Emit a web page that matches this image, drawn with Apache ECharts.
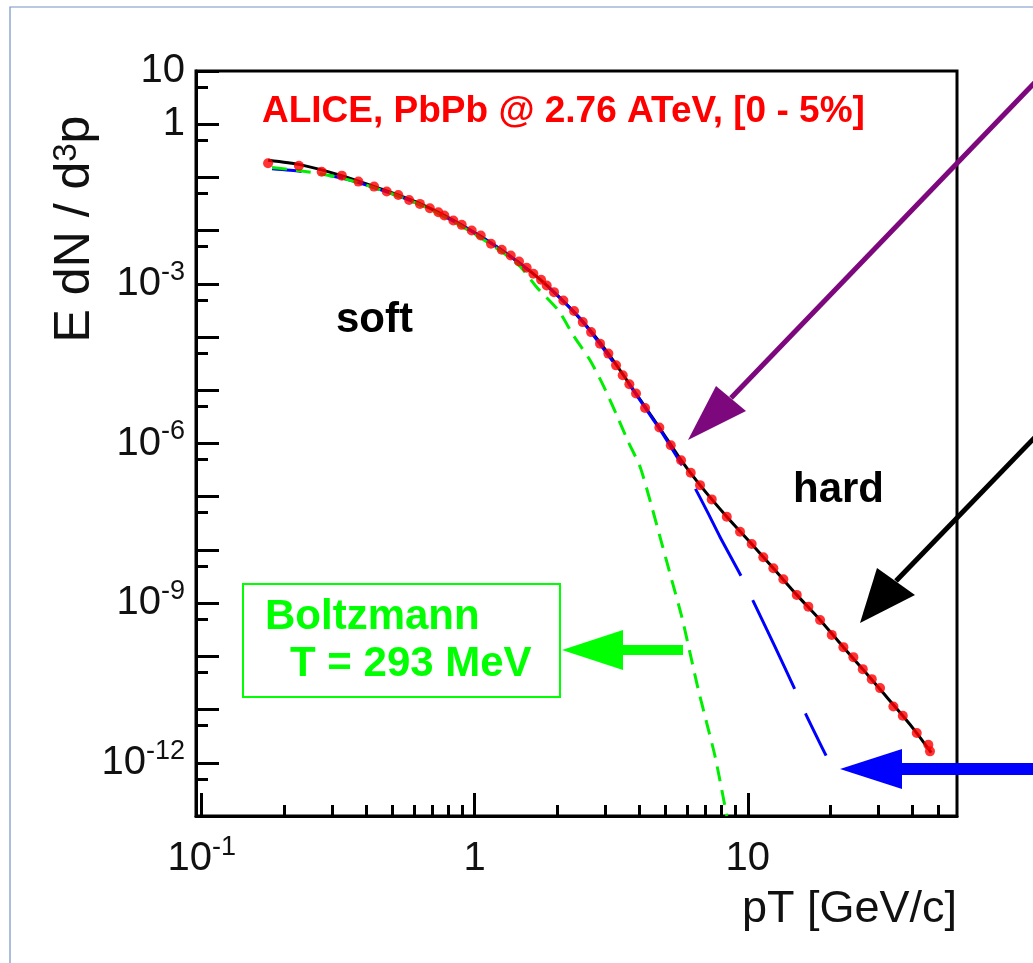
<!DOCTYPE html>
<html><head><meta charset="utf-8">
<script src="https://cdn.jsdelivr.net/npm/echarts@6/dist/echarts.min.js"></script>
<style>html,body{margin:0;padding:0;background:#fff}#c{width:1033px;height:963px}</style>
</head><body><div id="c"></div>
<script>
// ---- data ----
const dataPt = [0.175,0.227,0.275,0.326,0.375,0.428,0.476,0.525,0.575,0.630,0.685,0.736,0.774,0.835,0.896,0.975,1.052,1.147,1.256,1.355,1.453,1.550,1.640,1.750,1.835,1.952,2.112,2.311,2.487,2.667,2.877,3.086,3.293,3.484,3.684,3.897,4.206,4.745,5.224,5.698,6.182,6.687,7.381,8.379,9.37,10.34,11.40,12.41,13.50,15.12,16.67,18.40,20.31,22.40,24.37,26.38,28.46,30.52,34.15,36.97,41.6,45.86,46.5];
const dataY = [0.184,0.166,0.128,0.108,0.0834,0.0672,0.0542,0.0469,0.0378,0.0318,0.0263,0.0221,0.0192,0.0155,0.01285,0.01004,0.00809,0.00565,0.00436,0.00341,0.00263,0.00200,0.00155,0.00119,9.33e-4,6.99e-4,4.88e-4,3.08e-4,1.91e-4,1.24e-4,7.52e-5,4.89e-5,2.94e-5,1.91e-5,1.30e-5,8.67e-6,4.66e-6,2.0e-6,9.29e-7,4.86e-7,2.81e-7,1.65e-7,8.9e-8,4.2e-8,2.2e-8,1.29e-8,7.27e-9,4.52e-9,2.81e-9,1.43e-9,8.6e-10,4.84e-10,2.53e-10,1.49e-10,9.66e-11,5.75e-11,3.73e-11,2.53e-11,1.14e-11,7.66e-12,3.62e-12,2.19e-12,1.64e-12];

const fitPt = [0.175,0.229,0.321,0.450,0.630,0.884,1.238,1.735,2.431,3.086,3.897,4.745,5.698,6.687,8.379,10.34,12.41,15.12,18.40,22.40,26.38,30.52,36.97,41.6,47.0];
const fitY = [0.211,0.174,0.1104,0.0616,0.0322,0.0133,0.00452,0.00121,2.22e-4,4.89e-5,8.67e-6,2.0e-6,4.86e-7,1.65e-7,4.2e-8,1.29e-8,4.52e-9,1.43e-9,4.84e-10,1.49e-10,5.75e-11,2.4e-11,7.66e-12,3.62e-12,1.55e-12];

const hydroPt = [0.181,0.229,0.321,0.450,0.630,0.884,1.238,1.735,2.431,3.405,4.786,5.236,5.745,6.412,7.155,7.915,9.45,10.46,12.59,14.91,16.36,19.36];
const hydroY = [0.146,0.131,0.0992,0.059,0.0309,0.0130,0.00452,0.00121,2.24e-4,2.27e-5,1.78e-6,8.53e-7,3.92e-7,1.45e-7,4.92e-8,1.75e-8,3.24e-9,1.10e-9,1.51e-10,2.35e-11,7.98e-12,1.36e-12];

const boltzPt = [0.181,0.229,0.321,0.450,0.630,0.884,1.238,1.466,1.687,2.024,2.297,2.645,2.976,3.312,3.653,4.032,4.451,4.842,5.268,5.731,6.147,6.592,7.076,7.590,8.03,8.379];
const boltzY = [0.153,0.134,0.0992,0.059,0.0309,0.01247,0.00423,0.00212,8.67e-4,3.17e-4,1.08e-4,3.66e-5,1.15e-5,3.40e-6,1.07e-6,3.64e-7,6.47e-8,1.33e-8,2.72e-9,5.58e-10,1.15e-10,2.35e-11,5.58e-12,1.32e-12,3.13e-13,1.0e-13];

const xMajorTicks = [0.1, 1, 10];
const xMinorTicks = [0.2,0.3,0.4,0.5,0.6,0.7,0.8,0.9,2,3,4,5,6,7,8,9,20,30,40,50];
const yMajorTicks = [10,1,1e-1,1e-2,1e-3,1e-4,1e-5,1e-6,1e-7,1e-8,1e-9,1e-10,1e-11,1e-12];
const yLabelValues = [10,1,1e-3,1e-6,1e-9,1e-12];
const yMinorTicks = [5,5e-1,5e-2,5e-3,5e-4,5e-5,5e-6,5e-7,5e-8,5e-9,5e-10,5e-11,5e-12,5e-13];

const xTitle = 'pT [GeV/c]';
const yTitle = 'E dN / d{s|3}p';
const headline = 'ALICE, PbPb @ 2.76 ATeV, [0 - 5%]';

// ---- chart ----
const FONT = '"Liberation Sans", Arial, Helvetica, sans-serif';
function pow10Label(v){
  const e = Math.round(Math.log10(v));
  if (e === 0) return '{b|1}';
  if (e === 1) return '{b|10}';
  return '{b|10}{s|' + e + '}';
}
const tickRich = {
  b: {fontSize: 40, lineHeight: 50, fontFamily: FONT, color: '#111'},
  s: {fontSize: 27, lineHeight: 27, verticalAlign: 'top', fontFamily: FONT, color: '#111'}
};
const X = {min: 0.0953, max: 58.4};
const Y = {min: 1e-13, max: 10};
const gridRect = {left: 196, right: 76, top: 71, bottom: 147};

const pairs = (xs, ys) => xs.map((x, i) => [x, ys[i]]);

const chart = echarts.init(document.getElementById('c'), null, {renderer: 'canvas'});
chart.setOption({
  animation: false,
  backgroundColor: '#fff',
  grid: [
    Object.assign({show: true, borderColor: '#000', borderWidth: 3, backgroundColor: 'rgba(0,0,0,0)'}, gridRect),
    Object.assign({show: false}, gridRect)
  ],
  xAxis: [
    {type: 'log', logBase: 10, gridIndex: 0, min: X.min, max: X.max, position: 'bottom',
     axisLine: {show: true, onZero: false, lineStyle: {color: '#000', width: 3}},
     axisTick: {show: true, inside: true, length: 23, lineStyle: {color: '#000', width: 3}, customValues: xMajorTicks},
     axisLabel: {show: true, margin: 18, customValues: xMajorTicks, formatter: pow10Label, rich: tickRich},
     minorTick: {show: false}, splitLine: {show: false},
     name: xTitle, nameLocation: 'end', nameGap: 0,
     nameTextStyle: {fontFamily: FONT, fontSize: 45, color: '#111', align: 'right', verticalAlign: 'top', padding: [71, 0, 0, 0]}},
    {type: 'log', logBase: 10, gridIndex: 1, min: X.min, max: X.max, position: 'bottom',
     axisLine: {show: false},
     axisTick: {show: true, inside: true, length: 11, lineStyle: {color: '#000', width: 3}, customValues: xMinorTicks},
     axisLabel: {show: false}, splitLine: {show: false}}
  ],
  yAxis: [
    {type: 'log', logBase: 10, gridIndex: 0, min: Y.min, max: Y.max, position: 'left',
     axisLine: {show: true, onZero: false, lineStyle: {color: '#000', width: 3}},
     axisTick: {show: true, inside: true, length: 23, lineStyle: {color: '#000', width: 3}, customValues: yMajorTicks},
     axisLabel: {show: true, margin: 11, customValues: yLabelValues, formatter: pow10Label, rich: tickRich},
     minorTick: {show: false}, splitLine: {show: false}},
    {type: 'log', logBase: 10, gridIndex: 1, min: Y.min, max: Y.max, position: 'left',
     axisLine: {show: false},
     axisTick: {show: true, inside: true, length: 12, lineStyle: {color: '#000', width: 3}, customValues: yMinorTicks},
     axisLabel: {show: false}, splitLine: {show: false}}
  ],
  series: [
    {name: 'fit', type: 'line', xAxisIndex: 0, yAxisIndex: 0, data: pairs(fitPt, fitY), smooth: 0.25,
     showSymbol: false, lineStyle: {color: '#000', width: 3}, z: 2},
    {name: 'hydro', type: 'line', xAxisIndex: 0, yAxisIndex: 0, data: pairs(hydroPt, hydroY), smooth: 0.2,
     showSymbol: false, lineStyle: {color: '#0000ff', width: 3, type: [98, 27], dashOffset: 68}, z: 3},
    {name: 'Boltzmann', type: 'line', xAxisIndex: 0, yAxisIndex: 0, data: pairs(boltzPt, boltzY), smooth: 0.25,
     showSymbol: false, lineStyle: {color: '#00ee00', width: 3, type: [15, 9]}, z: 3},
    {name: 'ALICE', type: 'scatter', xAxisIndex: 0, yAxisIndex: 0, data: pairs(dataPt, dataY),
     symbol: 'circle', symbolSize: 10, itemStyle: {color: '#ff0000'}, z: 5}
  ],
  graphic: [
    {type: 'rect', shape: {x: 10, y: 7, width: 1100, height: 1100}, style: {fill: 'none', stroke: '#7394c4', lineWidth: 1.2}, z: 0, silent: true},
    {type: 'text', x: 75, y: 229, rotation: Math.PI / 2,
     style: {text: yTitle, fill: '#111', font: '50px ' + FONT, align: 'center', verticalAlign: 'middle',
             textAlign: 'center', textVerticalAlign: 'middle',
             rich: {s: {fontSize: 33, fontFamily: FONT, fill: '#111', verticalAlign: 'top', lineHeight: 33}}}, z: 10},
    {type: 'text', x: 262, y: 112, style: {text: headline, fill: '#ff0000', font: 'bold 37px ' + FONT, verticalAlign: 'middle', textVerticalAlign: 'middle'}, z: 10},
    {type: 'text', x: 336, y: 320, style: {text: 'soft', fill: '#000', font: 'bold 42px ' + FONT, verticalAlign: 'middle', textVerticalAlign: 'middle'}, z: 10},
    {type: 'text', x: 793, y: 490, style: {text: 'hard', fill: '#000', font: 'bold 42px ' + FONT, verticalAlign: 'middle', textVerticalAlign: 'middle'}, z: 10},
    {type: 'rect', shape: {x: 243, y: 584, width: 317, height: 113}, style: {fill: '#fff', stroke: '#00ff00', lineWidth: 2}, z: 9},
    {type: 'text', x: 265, y: 617, style: {text: 'Boltzmann', fill: '#00ff00', font: 'bold 42px ' + FONT, verticalAlign: 'middle', textVerticalAlign: 'middle'}, z: 10},
    {type: 'text', x: 290, y: 664, style: {text: 'T = 293 MeV', fill: '#00ff00', font: 'bold 42px ' + FONT, verticalAlign: 'middle', textVerticalAlign: 'middle'}, z: 10},
    // purple arrow
    {type: 'line', shape: {x1: 1040, y1: 77, x2: 731, y2: 398}, style: {stroke: '#7d087d', lineWidth: 5}, z: 11},
    {type: 'polygon', shape: {points: [[688, 440], [716, 386], [746, 411]]}, style: {fill: '#7d087d'}, z: 11},
    // black arrow
    {type: 'line', shape: {x1: 1040, y1: 432, x2: 896, y2: 581}, style: {stroke: '#000', lineWidth: 5}, z: 11},
    {type: 'polygon', shape: {points: [[860, 623], [877, 568], [915, 595]]}, style: {fill: '#000'}, z: 11},
    // green arrow
    {type: 'rect', shape: {x: 620, y: 645, width: 63, height: 10}, style: {fill: '#00ff00'}, z: 11},
    {type: 'polygon', shape: {points: [[562, 650], [623, 630], [623, 670]]}, style: {fill: '#00ff00'}, z: 11},
    // blue arrow
    {type: 'rect', shape: {x: 900, y: 763, width: 140, height: 12}, style: {fill: '#0000ff'}, z: 11},
    {type: 'polygon', shape: {points: [[840, 769], [902, 749], [902, 789]]}, style: {fill: '#0000ff'}, z: 11}
  ]
});
</script>
</body></html>
